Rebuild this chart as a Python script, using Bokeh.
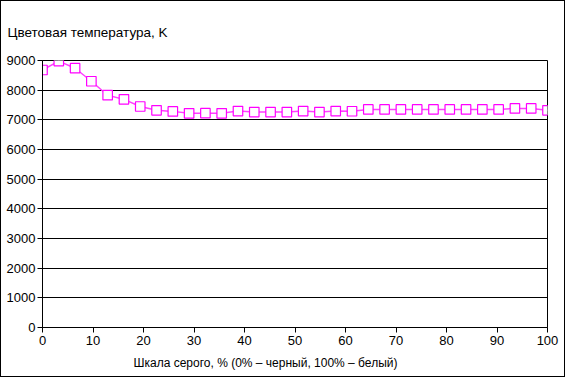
from bokeh.plotting import figure
from bokeh.models import Range1d, Title, FixedTicker
from bokeh.embed import file_html
from bokeh.resources import INLINE

gray_pct = [i * 100 / 31 for i in range(32)]
color_temp = [8680, 8980, 8740, 8300, 7830, 7690, 7450, 7320, 7285, 7220,
              7225, 7220, 7295, 7260, 7260, 7260, 7295, 7260, 7295, 7290,
              7350, 7350, 7350, 7350, 7350, 7350, 7350, 7350, 7350, 7385,
              7385, 7320]
x_ticks = [0, 10, 20, 30, 40, 50, 60, 70, 80, 90, 100]
y_ticks = [0, 1000, 2000, 3000, 4000, 5000, 6000, 7000, 8000, 9000]
y_title = "Цветовая температура,  K"
x_title = "Шкала серого, % (0% – черный, 100% – белый)"

FONT = "Liberation Sans"

p = figure(width=565, height=377, output_backend="svg", toolbar_location=None,
           x_range=Range1d(0, 100), y_range=Range1d(0, 9000),
           min_border_left=41, min_border_top=59, min_border_right=19,
           min_border_bottom=51)
p.styles = {"border": "1px solid black"}
p.background_fill_color = "white"
p.border_fill_color = "white"
p.outline_line_color = "black"
p.outline_line_width = 1

t = Title(text=y_title, align="left", offset=-35, standoff=42,
          text_font=FONT, text_font_size="13.5px", text_font_style="normal",
          text_color="black")
p.add_layout(t, "above")

for ax in (p.xaxis, p.yaxis):
    ax.axis_line_color = "black"
    ax.major_tick_line_color = "black"
    ax.major_tick_in = 0
    ax.major_tick_out = 5
    ax.minor_tick_line_color = None
    ax.major_label_text_font = FONT
    ax.major_label_text_font_size = "13px"
    ax.major_label_text_color = "black"

p.xaxis.ticker = FixedTicker(ticks=x_ticks)
p.yaxis.ticker = FixedTicker(ticks=y_ticks)
p.yaxis.major_label_standoff = 2
p.xaxis.major_label_standoff = 3

p.xgrid.grid_line_color = None
p.ygrid.ticker = FixedTicker(ticks=y_ticks)
p.ygrid.grid_line_color = "black"
p.ygrid.grid_line_alpha = 1

xt = Title(text=x_title, align="left", offset=91, standoff=12,
           text_font=FONT, text_font_size="12px", text_font_style="normal",
           text_color="black")
p.add_layout(xt, "below")

p.line(gray_pct, color_temp, line_color="#ff40ff", line_width=1.5)
p.scatter(gray_pct, color_temp, marker="square", size=9.5,
          fill_color="white", line_color="#ff00ff", line_width=1.2)

open("out.html", "w").write(file_html(p, INLINE))
